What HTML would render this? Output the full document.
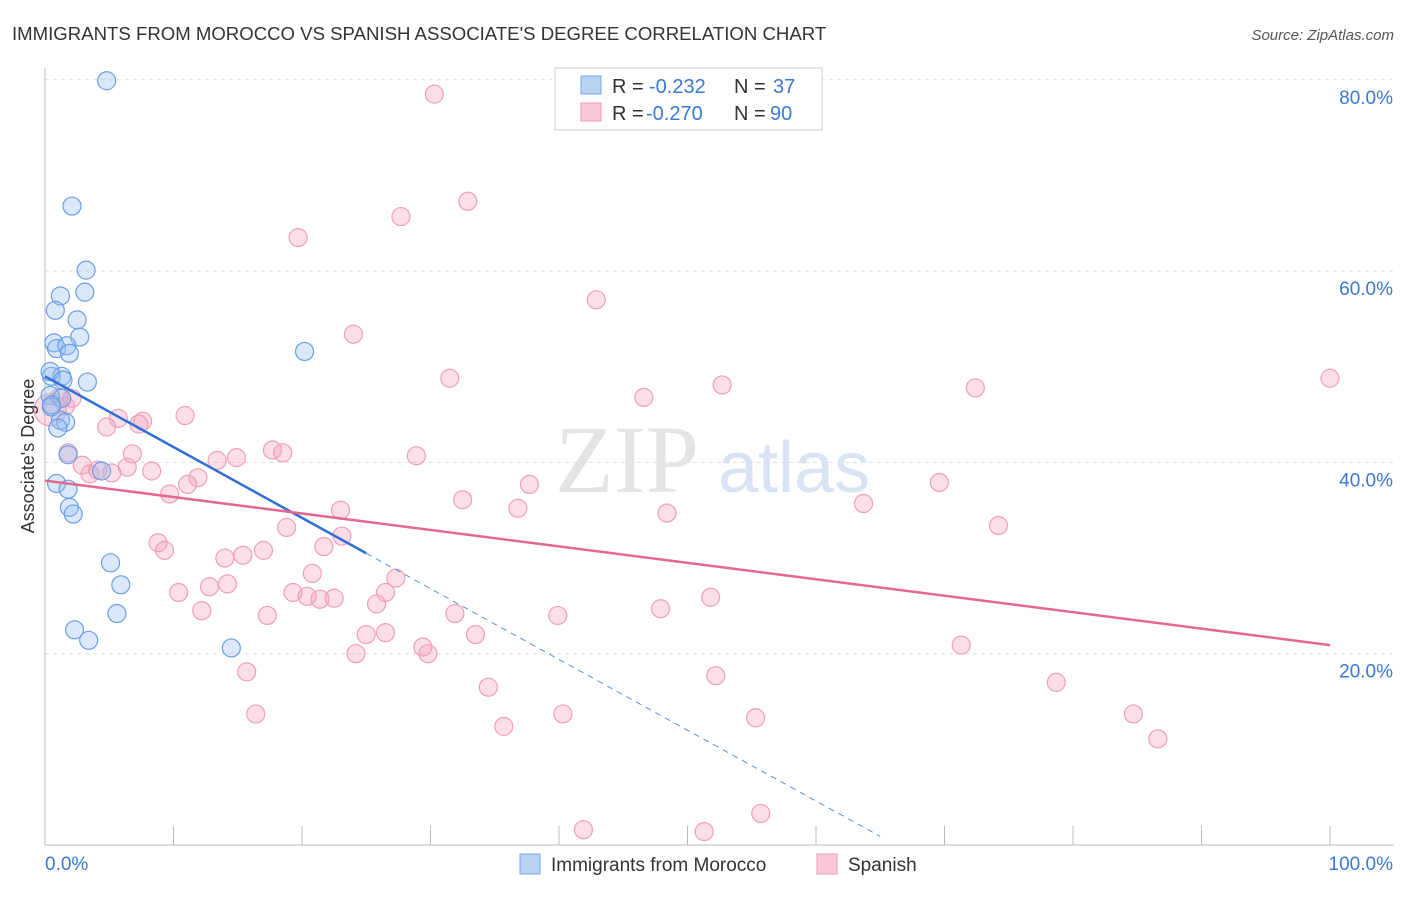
<!DOCTYPE html>
<html><head><meta charset="utf-8"><style>
body{margin:0;background:#fff;font-family:"Liberation Sans",sans-serif;}
</style></head><body>
<svg width="1406" height="892" viewBox="0 0 1406 892" font-family="Liberation Sans, sans-serif">
<text x="12" y="40" font-size="18.6" fill="#333">IMMIGRANTS FROM MOROCCO VS SPANISH ASSOCIATE'S DEGREE CORRELATION CHART</text>
<text x="1394" y="40" font-size="15" fill="#555" text-anchor="end" font-style="italic">Source: ZipAtlas.com</text>
<g id="grid"></g>
<text x="555" y="492" font-size="96" fill="#e4e4e4" font-family="Liberation Serif, serif">ZIP</text>
<text x="718" y="492" font-size="72" fill="#d8e4f4">atlas</text>
<g id="axes"></g>
<g id="pts"></g>
<g id="lines"></g>
<text x="34" y="456" font-size="18" fill="#333" text-anchor="middle" transform="rotate(-90 34 456)">Associate's Degree</text>
<g>
<rect x="555" y="68" width="267" height="62" fill="#fff" stroke="#ccc"/>
<rect x="581" y="76" width="20" height="18" fill="#b8d2f4" stroke="#7aa7e0"/>
<rect x="581" y="103" width="20" height="18" fill="#f9c8d6" stroke="#ee9ab4"/>
<text x="612" y="93" font-size="20" fill="#333">R =</text>
<text x="649" y="93" font-size="20" fill="#3a78d4">-0.232</text>
<text x="734" y="93" font-size="20" fill="#333">N =</text>
<text x="773" y="93" font-size="20" fill="#3a78d4">37</text>
<text x="612" y="120" font-size="20" fill="#333">R =</text>
<text x="646" y="120" font-size="20" fill="#3a78d4">-0.270</text>
<text x="734" y="120" font-size="20" fill="#333">N =</text>
<text x="770" y="120" font-size="20" fill="#3a78d4">90</text>
</g>
<g>
<rect x="520" y="854" width="20" height="20" fill="#b8d2f4" stroke="#7aa7e0"/>
<text x="551" y="871" font-size="19" fill="#333">Immigrants from Morocco</text>
<rect x="817" y="854" width="20" height="20" fill="#f9c8d6" stroke="#ee9ab4"/>
<text x="848" y="871" font-size="19" fill="#333">Spanish</text>
</g>
</svg>
<script>
const yTicks=[20,40,60,80];
const yTickLabels=["20.0%","40.0%","60.0%","80.0%"];
const blueX=[4.8,2.1,3.2,1.2,3.1,0.8,2.5,2.7,0.7,0.9,1.7,1.9,0.5,1.3,0.4,1.4,3.3,0.4,1.3,0.5,1.2,1.6,1.0,1.8,0.9,1.8,1.9,2.2,4.4,20.2,5.1,5.9,5.6,2.3,3.4,14.5,0.5];
const blueY=[79.9,66.8,60.1,57.4,57.8,55.9,54.9,53.1,52.5,51.9,52.2,51.4,49.0,49.0,49.5,48.6,48.4,47.0,46.7,45.8,44.4,44.2,43.6,40.8,37.8,37.2,35.3,34.6,39.1,51.6,29.5,27.2,24.2,22.5,21.4,20.6,46.0];
const pinkX=[30.3,32.9,27.7,19.7,42.9,24.0,31.5,46.6,52.7,72.4,100,0.4,1.1,2.1,1.6,5.7,7.6,10.9,4.8,7.3,1.8,6.8,2.9,4.1,6.4,3.5,5.2,8.3,13.4,14.9,17.7,18.5,28.9,11.9,11.1,9.7,32.5,37.7,36.8,48.4,63.7,69.6,23.0,18.8,21.7,23.1,8.8,9.3,14.0,15.4,17.0,20.8,27.3,26.5,25.8,10.4,12.8,14.2,19.3,20.4,21.4,22.5,12.2,17.3,31.9,33.5,39.9,47.9,51.8,74.2,25.0,26.5,29.4,29.8,24.2,15.7,34.5,52.2,71.3,78.7,84.7,86.6,16.4,35.7,40.3,55.3,41.9,51.3,55.7];
const pinkY=[78.5,67.3,65.7,63.5,57.0,53.4,48.8,46.8,48.1,47.8,48.8,45.5,46.8,46.7,45.9,44.6,44.3,44.9,43.7,44.0,41.0,40.9,39.7,39.2,39.5,38.8,38.9,39.1,40.2,40.5,41.3,41.0,40.7,38.4,37.7,36.7,36.1,37.7,35.2,34.7,35.7,37.9,35.0,33.2,31.2,32.3,31.6,30.8,30.0,30.3,30.8,28.4,27.9,26.4,25.2,26.4,27.0,27.3,26.4,26.0,25.7,25.8,24.5,24.0,24.2,22.0,24.0,24.7,25.9,33.4,22.0,22.2,20.7,20.0,20.0,18.1,16.5,17.7,20.9,17.0,13.7,11.1,13.7,12.4,13.7,13.3,1.6,1.4,3.3];
const xl=45,xr=1330,y0=845,yScale=9.565;
const sx=v=>xl+(xr-xl)*v/100, sy=v=>y0-v*yScale;
const NS="http://www.w3.org/2000/svg";
function mk(t,a,p){const e=document.createElementNS(NS,t);for(const k in a)e.setAttribute(k,a[k]);p.appendChild(e);return e;}
const grid=document.getElementById('grid'),axes=document.getElementById('axes'),pts=document.getElementById('pts'),lines=document.getElementById('lines');
yTicks.forEach((t,i)=>{
 const l=mk('line',{x1:xl,x2:1394,y1:sy(t),y2:sy(t),stroke:'#ddd','stroke-dasharray':'4,4'},grid);
 
 
 const tx=mk('text',{x:1393,y:sy(t)+24,'font-size':19,fill:'#3a78d4','text-anchor':'end'},axes);
 tx.textContent=yTickLabels[i];
 
 
});
const ax=mk('line',{x1:xl,x2:xl,y1:68,y2:y0,stroke:'#bbb'},axes);


const bx=mk('line',{x1:xl,x2:1394,y1:y0,y2:y0,stroke:'#bbb'},axes);


for(let i=0;i<=10;i++){const t=mk('line',{x1:sx(i*10),x2:sx(i*10),y1:826,y2:y0,stroke:'#bbb'},axes);
 
 }
[["0.0%",45,'start'],["100.0%",1393,'end']].forEach(d=>{const t=mk('text',{x:d[1],y:870,'font-size':19,fill:'#3a78d4','text-anchor':d[2]},axes);t.textContent=d[0];
 
 });
pinkX.forEach((x,i)=>{const c=mk('circle',{cx:sx(x),cy:sy(pinkY[i]),r:i==11?16:9,fill:'rgba(244,160,186,0.35)',stroke:'#eea0b8','stroke-width':1.2},pts);
 
 });
blueX.forEach((x,i)=>{const c=mk('circle',{cx:sx(x),cy:sy(blueY[i]),r:9,fill:'rgba(150,190,240,0.35)',stroke:'#6b9fe4','stroke-width':1.2},pts);
 
 });
const bl=v=>49.0-0.74*v, pl=v=>38.1-0.172*v;
const l1=mk('line',{x1:sx(0),y1:sy(bl(0)),x2:sx(25),y2:sy(bl(25)),stroke:'#2f6fd6','stroke-width':2.5},lines);


const l2=mk('line',{x1:sx(25),y1:sy(bl(25)),x2:sx(65),y2:sy(bl(65)),stroke:'#5a8fe0','stroke-width':1,'stroke-dasharray':'6,5'},lines);


const l3=mk('line',{x1:sx(0),y1:sy(pl(0)),x2:sx(100),y2:sy(pl(100)),stroke:'#e4678f','stroke-width':2.5},lines);


</script>
</body></html>
